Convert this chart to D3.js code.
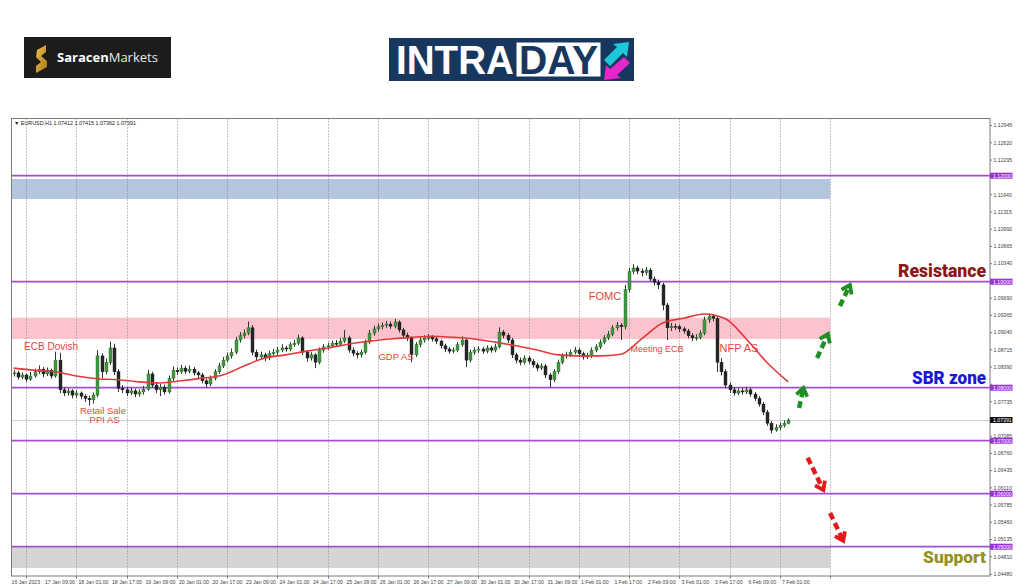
<!DOCTYPE html>
<html>
<head>
<meta charset="utf-8">
<script src="https://cdn.jsdelivr.net/npm/d3@7"></script>
<style>
body { margin: 0; background: #fff; }
svg { display: block; font-family: "Liberation Sans", Arial, sans-serif; }
</style>
</head>
<body>
<svg id="chart" width="1024" height="587"></svg>
<script>
// EURUSD H1, drawn as 2-hour candles (open = previous close)
var firstOpen = 1.0826;
var closes = [
	1.0828,1.0820,1.0824,1.0816,1.0822,1.0830,1.0835,1.0826,1.0833,1.0822,
	1.0852,1.0796,1.0790,1.0794,1.0786,1.0790,1.0784,1.0780,1.0777,1.0786,
	1.0860,1.0830,1.0848,1.0875,1.0830,1.0799,1.0796,1.0790,1.0794,1.0788,
	1.0792,1.0797,1.0826,1.0805,1.0796,1.0801,1.0792,1.0818,1.0833,1.0830,
	1.0837,1.0831,1.0835,1.0828,1.0824,1.0813,1.0807,1.0818,1.0830,1.0841,
	1.0852,1.0860,1.0867,1.0890,1.0898,1.0903,1.0913,1.0867,1.0858,1.0862,
	1.0856,1.0864,1.0867,1.0871,1.0875,1.0873,1.0881,1.0884,1.0894,1.0867,
	1.0856,1.0862,1.0848,1.0871,1.0877,1.0879,1.0884,1.0882,1.0888,1.0894,
	1.0871,1.0865,1.0862,1.0867,1.0886,1.0903,1.0911,1.0915,1.0918,1.0920,
	1.0916,1.0924,1.0909,1.0899,1.0894,1.0862,1.0881,1.0890,1.0894,1.0895,
	1.0892,1.0888,1.0879,1.0873,1.0869,1.0871,1.0881,1.0890,1.0852,1.0867,
	1.0871,1.0873,1.0869,1.0875,1.0871,1.0877,1.0905,1.0899,1.0890,1.0862,
	1.0852,1.0848,1.0856,1.0850,1.0843,1.0837,1.0841,1.0824,1.0815,1.0830,
	1.0848,1.0860,1.0862,1.0867,1.0871,1.0864,1.0858,1.0860,1.0871,1.0877,
	1.0886,1.0894,1.0901,1.0913,1.0918,1.0915,1.0985,1.1019,1.1026,1.1020,
	1.1017,1.1022,1.1005,1.0999,1.0994,1.0956,1.0913,1.0916,1.0915,1.0911,
	1.0907,1.0898,1.0894,1.0895,1.0903,1.0928,1.0935,1.0931,1.0848,1.0830,
	1.0805,1.0796,1.0790,1.0794,1.0792,1.0796,1.0788,1.0780,1.0769,1.0754,
	1.0733,1.0720,1.0725,1.0729,1.0733,1.0739
];
var highs = [
	1.0833,1.0832,1.0829,1.0827,1.0830,1.0836,1.0842,1.0839,1.0838,1.0836,
	1.0868,1.0866,1.0801,1.0799,1.0797,1.0795,1.0793,1.0788,1.0785,1.0791,
	1.0871,1.0865,1.0855,1.0887,1.0883,1.0835,1.0805,1.0801,1.0800,1.0798,
	1.0797,1.0803,1.0834,1.0830,1.0810,1.0807,1.0806,1.0823,1.0840,1.0838,
	1.0843,1.0841,1.0842,1.0839,1.0832,1.0828,1.0817,1.0823,1.0835,1.0847,
	1.0858,1.0866,1.0874,1.0896,1.0905,1.0910,1.0925,1.0918,1.0872,1.0868,
	1.0866,1.0870,1.0873,1.0877,1.0882,1.0879,1.0886,1.0890,1.0900,1.0897,
	1.0871,1.0867,1.0865,1.0876,1.0882,1.0885,1.0889,1.0890,1.0894,1.0909,
	1.0898,1.0876,1.0869,1.0872,1.0891,1.0909,1.0917,1.0921,1.0923,1.0926,
	1.0925,1.0930,1.0927,1.0913,1.0904,1.0897,1.0886,1.0895,1.0899,1.0901,
	1.0899,1.0896,1.0891,1.0883,1.0877,1.0876,1.0886,1.0897,1.0893,1.0872,
	1.0876,1.0878,1.0877,1.0880,1.0879,1.0883,1.0914,1.0909,1.0903,1.0894,
	1.0866,1.0857,1.0861,1.0860,1.0854,1.0847,1.0846,1.0845,1.0828,1.0835,
	1.0853,1.0865,1.0868,1.0872,1.0877,1.0875,1.0868,1.0866,1.0876,1.0882,
	1.0891,1.0899,1.0907,1.0918,1.0924,1.0922,1.0994,1.1026,1.1033,1.1030,
	1.1025,1.1028,1.1026,1.1010,1.1004,1.0998,1.0960,1.0922,1.0921,1.0919,
	1.0915,1.0911,1.0903,1.0901,1.0908,1.0934,1.0940,1.0939,1.0935,1.0856,
	1.0835,1.0810,1.0801,1.0799,1.0800,1.0802,1.0800,1.0792,1.0784,1.0773,
	1.0758,1.0737,1.0731,1.0734,1.0738,1.0742
];
var lows = [
	1.0821,1.0815,1.0816,1.0811,1.0813,1.0819,1.0826,1.0820,1.0822,1.0817,
	1.0819,1.0790,1.0784,1.0785,1.0780,1.0781,1.0778,1.0773,1.0766,1.0770,
	1.0782,1.0818,1.0825,1.0843,1.0824,1.0792,1.0790,1.0784,1.0786,1.0782,
	1.0783,1.0787,1.0794,1.0800,1.0790,1.0784,1.0787,1.0789,1.0813,1.0824,
	1.0826,1.0826,1.0827,1.0823,1.0818,1.0808,1.0801,1.0803,1.0814,1.0826,
	1.0837,1.0848,1.0855,1.0863,1.0885,1.0893,1.0899,1.0861,1.0851,1.0853,
	1.0850,1.0852,1.0860,1.0862,1.0867,1.0868,1.0869,1.0877,1.0880,1.0862,
	1.0849,1.0851,1.0837,1.0844,1.0866,1.0872,1.0875,1.0877,1.0878,1.0884,
	1.0866,1.0859,1.0855,1.0857,1.0863,1.0882,1.0898,1.0906,1.0910,1.0913,
	1.0911,1.0912,1.0904,1.0893,1.0888,1.0848,1.0858,1.0876,1.0885,1.0889,
	1.0887,1.0882,1.0874,1.0867,1.0864,1.0865,1.0867,1.0877,1.0839,1.0848,
	1.0862,1.0866,1.0864,1.0865,1.0866,1.0867,1.0874,1.0893,1.0884,1.0856,
	1.0846,1.0842,1.0844,1.0845,1.0838,1.0831,1.0833,1.0818,1.0801,1.0811,
	1.0826,1.0844,1.0855,1.0858,1.0863,1.0859,1.0853,1.0854,1.0856,1.0867,
	1.0873,1.0882,1.0890,1.0897,1.0908,1.0890,1.0910,1.0980,1.1014,1.1014,
	1.1010,1.1012,1.1000,1.0993,1.0986,1.0946,1.0890,1.0907,1.0909,1.0905,
	1.0902,1.0893,1.0888,1.0889,1.0891,1.0899,1.0922,1.0925,1.0830,1.0823,
	1.0799,1.0790,1.0785,1.0786,1.0787,1.0788,1.0783,1.0775,1.0764,1.0748,
	1.0728,1.0714,1.0717,1.0720,1.0725,1.0731
];

// moving average (red line), one reading every 10 hours
var maHours = [1,11,21,31,41,51,61,71,81,91,101,111,121,131,141,151,161,171,181,191,
	201,211,221,231,241,251,261,271,281,291,301,311,321,331,341,351,361,371];
var maValues = [1.0837,1.0833,1.0830,1.0822,1.0817,1.0815,1.0811,1.0809,1.0813,1.0818,
	1.0824,1.0841,1.0856,1.0862,1.0869,1.0875,1.0882,1.0888,1.0892,1.0895,
	1.0897,1.0895,1.0892,1.0886,1.0879,1.0871,1.0862,1.0860,1.0860,1.0863,
	1.0892,1.0922,1.0931,1.0939,1.0930,1.0892,1.0847,1.0811];

var timeLabels = ["16 Jan 2023","17 Jan 09:00","18 Jan 01:00","18 Jan 17:00","19 Jan 09:00",
	"20 Jan 01:00","20 Jan 17:00","23 Jan 09:00","24 Jan 01:00","24 Jan 17:00","25 Jan 09:00",
	"26 Jan 01:00","26 Jan 17:00","27 Jan 09:00","30 Jan 01:00","30 Jan 17:00","31 Jan 09:00",
	"1 Feb 01:00","1 Feb 17:00","2 Feb 09:00","3 Feb 01:00","3 Feb 17:00","6 Feb 09:00","7 Feb 01:00"];
var priceTicks = ["1.04480","1.04810","1.05135","1.05460","1.05785","1.06110","1.06435",
	"1.06760","1.07085","1.07410","1.07735","1.08065","1.08390","1.08715","1.09040","1.09365",
	"1.09690","1.10015","1.10340","1.10665","1.10990","1.11315","1.11640","1.11965","1.12295",
	"1.12620","1.12945"];

var levels = [1.12, 1.10, 1.08, 1.07, 1.06, 1.05];
var currentPrice = 1.07391;
var zoneTops = [1.11938, 1.09321, 1.04994];
var zoneBottoms = [1.11560, 1.08919, 1.04598];
var zoneEndHour = 391;

var noteTexts = ["ECB Dovish", "Retail Sale", "PPI AS", "GDP AS", "FOMC", "Meeting ECB", "NFP AS"];
var noteHours = [18.9, 43.7, 44.5, 183.7, 283.5, 308.3, 347.5];
var notePrices = [1.0871, 1.0750, 1.0733, 1.0852, 1.0965, 1.0867, 1.0867];

var upArrows = [[376.2, 1.07617, 378.3, 1.07994], [384.8, 1.08560, 390.0, 1.09013], [395.7, 1.09542, 400.5, 1.09938]];
var downArrows = [[380.3, 1.06679, 387.8, 1.06070], [391.0, 1.05636, 397.3, 1.05113]];

var svg = d3.select("#chart");
var L = 11.5, R = 990, T = 118.5, B = 576;

var x = d3.scaleLinear().domain([0, 368]).range([11.5, 781.9]);
var y = d3.scaleLinear().domain([1.08, 1.10]).range([387.7, 281.7]);

// ---- logos ----
var logo = svg.append("g");
logo.append("rect").attr("x", 24).attr("y", 37).attr("width", 147).attr("height", 41).attr("fill", "#1c1c1c");
var defs = svg.append("defs");
var gold = defs.append("linearGradient").attr("id", "gold").attr("x1", 0).attr("y1", 0).attr("x2", 1).attr("y2", 1);
gold.append("stop").attr("offset", "0").attr("stop-color", "#f2c24a");
gold.append("stop").attr("offset", "1").attr("stop-color", "#a8741a");
logo.append("path")
	.attr("d", "M37,50 L46,45 L46,52 L41,56 L47,61 L47,67 L36,73 L36,66 L41,62 L36,57 Z")
	.attr("fill", "url(#gold)");
var st = logo.append("text").attr("x", 57).attr("y", 62).attr("fill", "#fff")
	.style("font-family", "'Open Sans', sans-serif").style("font-size", "13px");
st.append("tspan").attr("font-weight", 700).text("Saracen");
st.append("tspan").attr("font-weight", 400).attr("fill", "#e8e8e8").text("Markets");

logo.append("rect").attr("x", 389).attr("y", 38).attr("width", 245).attr("height", 43).attr("fill", "#17375e");
logo.append("text").attr("x", 396).attr("y", 74).attr("fill", "#fff")
	.attr("font-weight", 700).style("font-size", "40px")
	.attr("textLength", 118).attr("lengthAdjust", "spacingAndGlyphs").text("INTRA");
logo.append("rect").attr("x", 516).attr("y", 42).attr("width", 85).attr("height", 35)
	.attr("fill", "#fff").attr("stroke", "#17375e").attr("stroke-width", 1);
logo.append("text").attr("x", 519).attr("y", 74).attr("fill", "#17375e")
	.attr("font-weight", 700).style("font-size", "40px")
	.attr("textLength", 79).attr("lengthAdjust", "spacingAndGlyphs").text("DAY");
logo.append("path").attr("d", "M604,60 L617,47 L613,44 L629,42 L627,57 L623,53 L610,66 Z").attr("fill", "#1ec8d8");
logo.append("path").attr("d", "M630,63 L617,75 L621,78 L604,80 L606,65 L610,69 L624,57 Z").attr("fill", "#e626c8");

// ---- plot ----
defs.append("clipPath").attr("id", "plotClip").append("rect")
	.attr("x", L).attr("y", T).attr("width", R - L).attr("height", B - T);
var plot = svg.append("g").attr("clip-path", "url(#plotClip)");

var zoneColors = ["#b3c6de", "#fbc3cd", "#d4d4d4"];
plot.selectAll("rect.zone").data(zoneTops).enter().append("rect")
	.attr("class", "zone")
	.attr("x", L)
	.attr("y", function(d) { return y(d); })
	.attr("width", x(zoneEndHour) - L)
	.attr("height", function(d, i) { return y(zoneBottoms[i]) - y(d); })
	.attr("fill", function(d, i) { return zoneColors[i]; });

// vertical dotted grid
var gridHours = d3.range(7, 392, 24);
plot.selectAll("line.grid").data(gridHours).enter().append("line")
	.attr("x1", function(d) { return Math.round(x(d)) + 0.5; })
	.attr("x2", function(d) { return Math.round(x(d)) + 0.5; })
	.attr("y1", T).attr("y2", B)
	.attr("stroke", "#8a8a8a").attr("stroke-width", 1).attr("stroke-dasharray", "1,2");

// current price line
plot.append("line").attr("x1", L).attr("x2", R)
	.attr("y1", Math.round(y(currentPrice)) + 0.5).attr("y2", Math.round(y(currentPrice)) + 0.5)
	.attr("stroke", "#cfcfcf").attr("stroke-width", 1);

// horizontal levels
plot.selectAll("line.level").data(levels).enter().append("line")
	.attr("x1", L).attr("x2", R)
	.attr("y1", function(d) { return y(d); }).attr("y2", function(d) { return y(d); })
	.attr("stroke", "#a24fd6").attr("stroke-width", 1.8);

// candles
var candles = closes.map(function(c, i) {
	return { h: 2 * i + 1, o: i ? closes[i - 1] : firstOpen, hi: highs[i], lo: lows[i], c: c };
});
var cg = plot.append("g");
cg.selectAll("line.wick").data(candles).enter().append("line")
	.attr("x1", function(d) { return Math.round(x(d.h)) + 0.5; })
	.attr("x2", function(d) { return Math.round(x(d.h)) + 0.5; })
	.attr("y1", function(d) { return y(d.hi); })
	.attr("y2", function(d) { return y(d.lo); })
	.attr("stroke", "#2d3a2d").attr("stroke-width", 1);
cg.selectAll("rect.body").data(candles).enter().append("rect")
	.attr("x", function(d) { return Math.round(x(d.h)) - 1; })
	.attr("width", 3)
	.attr("y", function(d) { return y(Math.max(d.o, d.c)); })
	.attr("height", function(d) { return Math.max(1, Math.abs(y(d.o) - y(d.c))); })
	.attr("fill", function(d) { return d.c >= d.o ? "#3f9a3f" : "#262626"; })
	.attr("stroke", function(d) { return d.c >= d.o ? "#2a5e2a" : "#1a1a1a"; })
	.attr("stroke-width", 0.4);

// moving average
plot.append("path")
	.datum(maHours.map(function(h, i) { return [h, maValues[i]]; }))
	.attr("d", d3.line().x(function(d) { return x(d[0]); }).y(function(d) { return y(d[1]); }).curve(d3.curveMonotoneX))
	.attr("fill", "none").attr("stroke", "#e23a3a").attr("stroke-width", 1.6);

// event notes
var noteSizes = [10, 9.5, 9.5, 9.5, 11, 9, 11];
plot.selectAll("text.note").data(noteTexts).enter().append("text")
	.attr("x", function(d, i) { return x(noteHours[i]); })
	.attr("y", function(d, i) { return y(notePrices[i]); })
	.attr("text-anchor", "middle")
	.style("font-size", function(d, i) { return noteSizes[i] + "px"; })
	.attr("fill", "#e2463c")
	.text(function(d) { return d; });

// dashed arrows
function drawArrow(a, color) {
	var x1 = x(a[0]), y1 = y(a[1]), x2 = x(a[2]), y2 = y(a[3]);
	var ang = Math.atan2(y2 - y1, x2 - x1);
	var hx = x2 - 3 * Math.cos(ang), hy = y2 - 3 * Math.sin(ang);
	plot.append("line").attr("x1", x1).attr("y1", y1).attr("x2", hx).attr("y2", hy)
		.attr("stroke", color).attr("stroke-width", 4.5).attr("stroke-dasharray", "7,4");
	var len = 9.5, spread = 0.62;
	var p = [
		[x2 - len * Math.cos(ang - spread), y2 - len * Math.sin(ang - spread)],
		[x2, y2],
		[x2 - len * Math.cos(ang + spread), y2 - len * Math.sin(ang + spread)]
	];
	plot.append("path").attr("d", d3.line()(p))
		.attr("fill", "none").attr("stroke", color).attr("stroke-width", 3.8).attr("stroke-linejoin", "miter");
}
upArrows.forEach(function(a) { drawArrow(a, "#1f8f25"); });
downArrows.forEach(function(a) { drawArrow(a, "#e3191b"); });

// zone labels
var bigLabels = [
	{ t: "Resistance", yy: 276.5, w: 88, c: "#8c1717", fs: 19 },
	{ t: "SBR zone", yy: 383.5, w: 74, c: "#1818d6", fs: 18 },
	{ t: "Support", yy: 562.5, w: 63, c: "#939322", fs: 17 }
];
bigLabels.forEach(function(b) {
	svg.append("text").attr("x", 986 - b.w).attr("y", b.yy)
		.attr("textLength", b.w).attr("lengthAdjust", "spacingAndGlyphs")
		.style("font-family", "Roboto, 'Liberation Sans', sans-serif")
		.style("font-size", b.fs + "px").attr("font-weight", 900)
		.attr("fill", b.c).text(b.t);
});

// frame
svg.append("rect").attr("x", L).attr("y", T).attr("width", R - L).attr("height", B - T)
	.attr("fill", "none").attr("stroke", "#7a7a7a").attr("stroke-width", 1);

svg.append("text").attr("x", 14).attr("y", 124.5).style("font-size", "5.4px").attr("fill", "#222")
	.text("\u25BC EURUSD,H1  1.07412 1.07415 1.07362 1.07391");

// price axis (ticks hidden where a level box sits on them)
var boxed = levels.concat([currentPrice]);
var shownTicks = priceTicks.filter(function(d) {
	return boxed.every(function(b) { return Math.abs(y(+d) - y(b)) > 4; });
});
var pa = svg.append("g");
pa.selectAll("line").data(priceTicks).enter().append("line")
	.attr("x1", R).attr("x2", R + 2)
	.attr("y1", function(d) { return y(+d); }).attr("y2", function(d) { return y(+d); })
	.attr("stroke", "#777");
pa.selectAll("text").data(shownTicks).enter().append("text")
	.attr("x", R + 3.5).attr("y", function(d) { return y(+d) + 1.8; })
	.style("font-size", "5.2px").attr("fill", "#444").text(function(d) { return d; });

var lvl = svg.append("g");
lvl.selectAll("rect").data(levels).enter().append("rect")
	.attr("x", R).attr("width", 22.5).attr("y", function(d) { return y(d) - 3; }).attr("height", 6)
	.attr("fill", "#9b30d8");
lvl.selectAll("text").data(levels).enter().append("text")
	.attr("x", R + 3).attr("y", function(d) { return y(d) + 1.9; })
	.style("font-size", "5.2px").attr("fill", "#fff").text(function(d) { return d.toFixed(5); });

svg.append("rect").attr("x", R).attr("width", 22.5).attr("y", y(currentPrice) - 3).attr("height", 6).attr("fill", "#111");
svg.append("text").attr("x", R + 3).attr("y", y(currentPrice) + 1.9).style("font-size", "5.2px")
	.attr("fill", "#fff").text(currentPrice.toFixed(5));

// time axis
var ta = svg.append("g");
ta.selectAll("line").data(gridHours).enter().append("line")
	.attr("x1", function(d) { return Math.round(x(d)) + 0.5; })
	.attr("x2", function(d) { return Math.round(x(d)) + 0.5; })
	.attr("y1", B).attr("y2", B + 2.5).attr("stroke", "#777");
ta.selectAll("text").data(timeLabels).enter().append("text")
	.attr("x", function(d, i) { return x(i * 16); })
	.attr("y", 583.5)
	.style("font-size", "5.2px").attr("fill", "#444").text(function(d) { return d; });
</script>
</body>
</html>
